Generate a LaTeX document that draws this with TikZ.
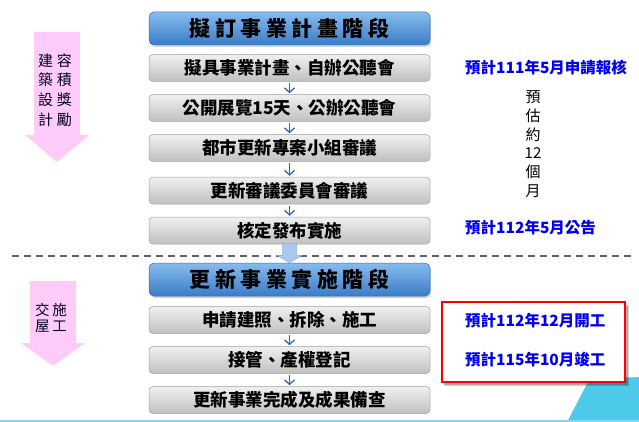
\documentclass[tikz,border=0pt]{standalone}
\usepackage{fontspec}
\setmainfont{Noto Sans CJK TC}
\usetikzlibrary{arrows.meta,shadows,calc}
\definecolor{hdtop}{HTML}{86BCEE}
\definecolor{hdbot}{HTML}{3A7CC7}
\definecolor{hdline}{HTML}{3570B5}
\definecolor{gtop}{HTML}{F0F0F0}
\definecolor{gbot}{HTML}{C0C0C0}
\definecolor{gline}{HTML}{A0A0A0}
\definecolor{arrowblue}{HTML}{2E62CC}
\definecolor{bigarrow}{HTML}{A9C8EE}
\definecolor{bigarrowline}{HTML}{8AAEDD}
\definecolor{noteblue}{HTML}{0000F0}
\definecolor{pinkc}{HTML}{FFCCFA}
\definecolor{cyanshape}{HTML}{4DC9E9}
\definecolor{cyanline}{HTML}{86D6EC}
\tikzset{
  header/.style={minimum width=281pt, minimum height=33pt, rounded corners=5pt,
    top color=hdtop, bottom color=hdbot, draw=hdline, line width=0.5pt,
    drop shadow={shadow xshift=1.2pt, shadow yshift=-2pt, opacity=0.35},
    font=\fontsize{21}{21}\selectfont\bfseries, inner sep=0pt},
  stage/.style={minimum width=281pt, minimum height=27pt, rounded corners=4pt,
    top color=gtop, bottom color=gbot, draw=gline, line width=0.5pt,
    font=\fontsize{17.5}{17.5}\selectfont\bfseries, inner sep=0pt},
  flow/.style={draw=arrowblue, line width=1.3pt,
    -{Straight Barb[length=4.5pt,width=10pt]}, shorten >=1pt, shorten <=1.5pt},
  note/.style={text=noteblue, font=\fontsize{15.5}{15.5}\selectfont\bfseries,
    anchor=west, inner sep=0pt},
  pinktext/.style={align=center, inner sep=0pt, text=black!85!blue},
}
\begin{document}
\begin{tikzpicture}[x=1pt, y=1pt]
\useasboundingbox (0,0) rectangle (639,-422);
% background decoration
\fill[cyanshape, rounded corners=7pt] (563,-430) -- (590,-378) -- (650,-377) -- (650,-430) -- cycle;
\draw[cyanline, line width=1.5pt] (0,-421) -- (639,-421);

% pink arrows
\fill[pinkc] (34,-32) -- (80,-32) -- (80,-135) -- (89,-135) -- (57,-162) -- (25,-135) -- (34,-135) -- cycle;
\node[pinktext, font=\fontsize{15}{19.7}\selectfont] (p1) at (55,-90)
  {建\hspace{4pt}容\\築\hspace{4pt}積\\設\hspace{4pt}獎\\計\hspace{4pt}勵};
\fill[pinkc] (30,-281) -- (76,-281) -- (76,-343) -- (85,-343) -- (53,-366) -- (21,-343) -- (30,-343) -- cycle;
\node[pinktext, font=\fontsize{14.5}{16.5}\selectfont] (p2) at (51,-318)
  {交\hspace{3pt}施\\屋\hspace{3pt}工};

% dashed separator
\draw[gray!75!black, line width=1.2pt, dash pattern=on 7pt off 5pt] (12,-256) -- (632,-256);

% stage boxes
\node[header] (H1) at (289.5,-28.5) {擬\hspace{4.5pt}訂\hspace{4.5pt}事\hspace{4.5pt}業\hspace{4.5pt}計\hspace{4.5pt}畫\hspace{4.5pt}階\hspace{4.5pt}段};
\node[stage] (G1) at (289.5,-68) {擬具事業計畫、自辦公聽會};
\node[stage] (G2) at (289.5,-108) {公開展覽15天、公辦公聽會};
\node[stage] (G3) at (289.5,-148) {都市更新專案小組審議};
\node[stage] (G4) at (289.5,-190.5) {更新審議委員會審議};
\node[stage] (G5) at (289.5,-230.5) {核定發布實施};
\node[header] (H2) at (289.5,-279.5) {更\hspace{4.5pt}新\hspace{4.5pt}事\hspace{4.5pt}業\hspace{4.5pt}實\hspace{4.5pt}施\hspace{4.5pt}階\hspace{4.5pt}段};
\node[stage] (G6) at (289.5,-320) {申請建照、拆除、施工};
\node[stage] (G7) at (289.5,-360) {接管、產權登記};
\node[stage] (G8) at (289.5,-400) {更新事業完成及成果備查};

% small arrows
\draw[flow] (G1) -- (G2);
\draw[flow] (G2) -- (G3);
\draw[flow] (G3) -- (G4);
\draw[flow] (G4) -- (G5);
\draw[flow] (G6) -- (G7);
\draw[flow] (G7) -- (G8);

% big arrow between phases
\draw[fill=bigarrow, draw=bigarrowline, line width=0.5pt]
  ($(G5.south)+(-7,1)$) -- ($(G5.south)+(7,1)$) -- ($(G5.south)+(7,-11)$) -- ($(G5.south)+(12.5,-11)$)
  -- (H2.north) -- ($(G5.south)+(-12.5,-11)$) -- ($(G5.south)+(-7,-11)$) -- cycle;

% notes
\node[note] (n1) at (465,-68) {預計111年5月申請報核};
\node[align=center, inner sep=0pt, font=\fontsize{15}{18.7}\selectfont] (est) at (533,-144)
  {預\\估\\約\\12\\個\\月};
\node[note] (n2) at (465,-228) {預計112年5月公告};
\fill[black, opacity=0.18] (444,-305) rectangle (629,-386);
\fill[black, opacity=0.18] (445,-306) rectangle (628,-385);
\draw[red, line width=2.5pt, fill=white] (442,-302) rectangle (625,-382);
\node[note] (n3) at (465,-321) {預計112年12月開工};
\node[note] (n4) at (465,-360) {預計115年10月竣工};
\end{tikzpicture}
\end{document}
